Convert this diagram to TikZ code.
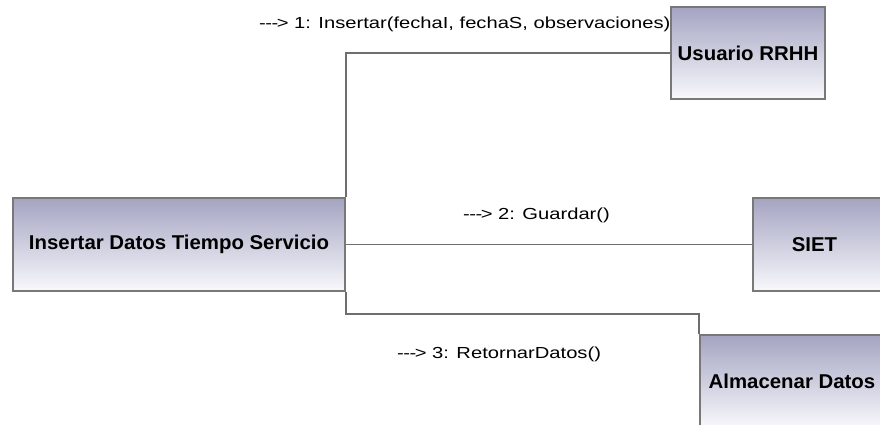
\documentclass[tikz,border=0pt]{standalone}
\usepackage{fontspec}
\newfontfamily\boxfont[FakeStretch=1.02]{Liberation Sans}
\newfontfamily\labfont[FakeStretch=1.26]{Liberation Sans}
\definecolor{boxtop}{RGB}{164,164,194}
\definecolor{boxbot}{RGB}{248,248,252}
\definecolor{boxline}{RGB}{120,120,120}
\definecolor{conline}{RGB}{110,110,110}
\tikzset{
  objbox/.style={draw=boxline, line width=2pt, rectangle, top color=boxtop, bottom color=boxbot,
    inner sep=0pt, font=\boxfont\bfseries\fontsize{20}{24}\selectfont, text=black},
  conn/.style={draw=conline, line width=1.8pt},
  msg/.style={inner sep=0pt, anchor=base west, font=\labfont\fontsize{16}{19}\selectfont, text=black}
}
\newcommand{\msgarrow}{-\kern-0.5pt-\kern-0.5pt-\kern-1.5pt>}
\begin{document}
\begin{tikzpicture}[x=1pt,y=-1pt]
\useasboundingbox (0,0) rectangle (880,425);
\clip (0,0) rectangle (880,425);
\fill[white] (0,0) rectangle (880,425);
\node[objbox, minimum width=332pt, minimum height=93pt] (ins) at (179,244.5) {Insertar Datos Tiempo Servicio};
\node[objbox, minimum width=154pt, minimum height=92pt] (usr) at (748,53) {Usuario RRHH};
\node[objbox, minimum width=131pt, minimum height=93pt] (siet) at (818.5,244.5) {\hspace*{-8pt}SIET};
\node[objbox, minimum width=184pt, minimum height=93pt] (alm) at (792,381.5) {Almacenar Datos};
\draw[conn] (ins.north east) |- (usr.west);
\draw[conn] (ins.east) -- (siet.west);
\draw[conn] (ins.south east) -- ++(0,22) -| (alm.north west);
\node[msg] (m1) at (259,29) {\msgarrow{} 1: Insertar(fechaI, fechaS, observaciones)};
\node[msg] (m2) at (463,219) {\msgarrow{} 2: Guardar()};
\node[msg] (m3) at (397,358) {\msgarrow{} 3: RetornarDatos()};
\end{tikzpicture}
\end{document}
